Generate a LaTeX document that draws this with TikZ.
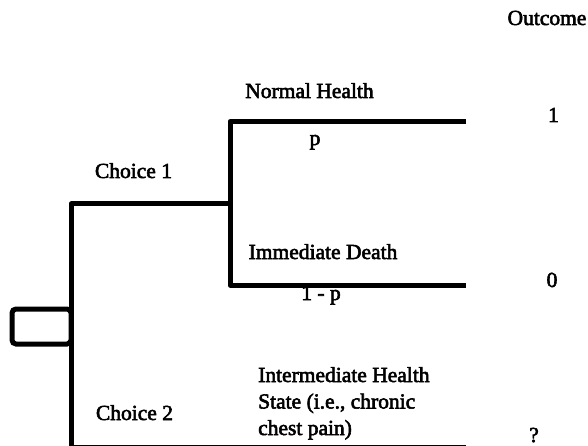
\documentclass[tikz,border=0pt]{standalone}
\usepackage{fontspec}
\setmainfont{Liberation Serif}[FakeBold=2.6]
\begin{document}
\begin{tikzpicture}[x=1pt,y=-1pt,
  branch/.style={line width=5pt, line cap=butt, line join=round},
  decbox/.style={draw, line width=5pt, rounded corners=4pt, minimum width=59pt,
    minimum height=35pt, inner sep=0pt, outer sep=0pt},
  lbl/.style={font=\fontsize{21.5}{26.5}\selectfont, inner sep=0pt, anchor=base},
  lblw/.style={lbl, anchor=base west, align=left},
]
\useasboundingbox (0,0) rectangle (588,446);

% decision node and branch points
\node[decbox] (dec) at (41.5,326.5) {};
\coordinate (c1) at (71,204);
\coordinate (c2) at (71,447);
\coordinate (ntop) at (230,121.5);
\coordinate (nbot) at (230,285);
\coordinate (chance) at (230,204);
\coordinate (e1) at (466,121.5);
\coordinate (e0) at (466,285);
\coordinate (e2) at (466,447);

% branches
\draw[branch] (chance) -- (c1) -- (c2) -- (e2);
\draw[branch] (e1) -- (ntop) -- (nbot) -- (e0);

% labels
\node[lbl] (out) at (547,25) {Outcome};
\node[lbl] (nh) at (309.5,98) {Normal Health};
\node[lbl] (p) at (315,145) {p};
\node[lbl] (id) at (323,259) {Immediate Death};
\node[lbl] (q) at (321,300) {1 - p};
\node[lbl] (ch1) at (133.5,178) {Choice 1};
\node[lbl] (ch2) at (134.5,420) {Choice 2};
% the base anchor of a multi-line node sits on its last line
\node[lblw] (ih) at (258,435) {Intermediate Health\\State (i.e., chronic\\chest pain)};
\node[lbl] (o1) at (553.5,122) {1};
\node[lbl] (o0) at (552,287) {0};
\node[lbl] (o2) at (534,442) {?};
\end{tikzpicture}
\end{document}
